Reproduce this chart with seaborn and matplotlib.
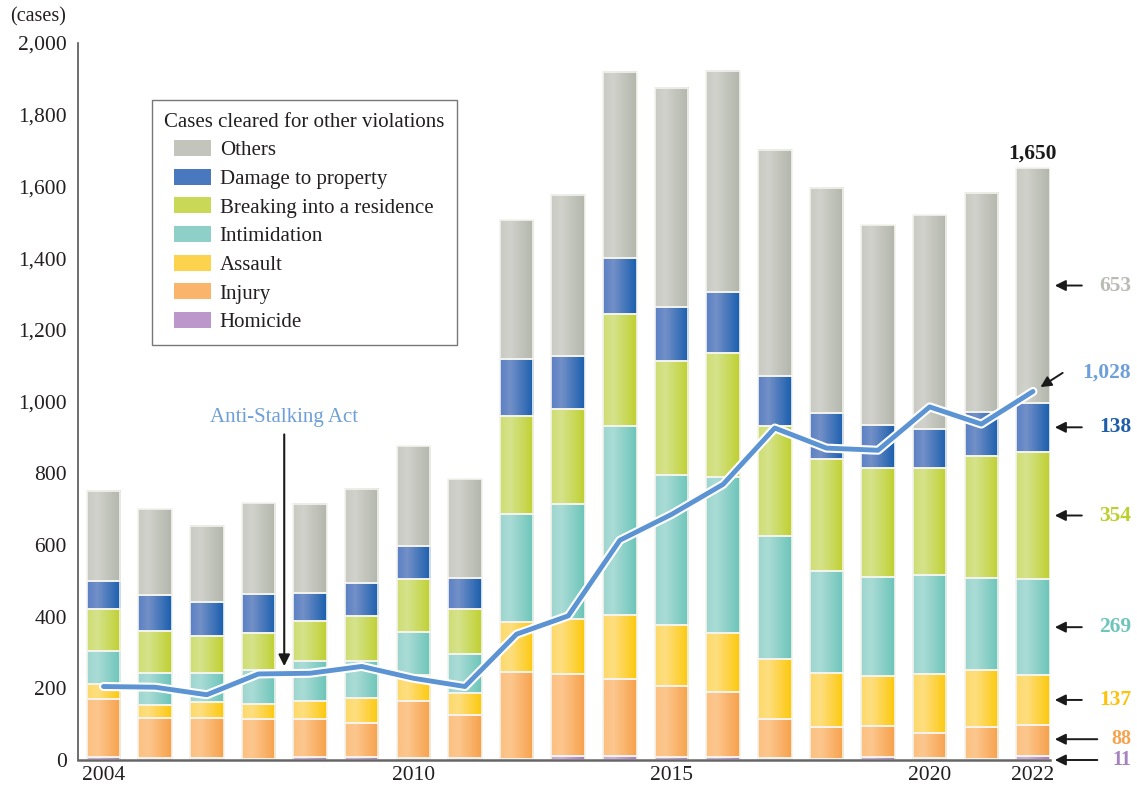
import numpy as np
import pandas as pd
import seaborn as sns
import matplotlib
matplotlib.use("Agg")
import matplotlib.pyplot as plt
from matplotlib.patches import Patch, Rectangle
from matplotlib.legend_handler import HandlerPatch
from matplotlib.colors import LinearSegmentedColormap
import matplotlib.patheffects as pe

# data
years = [2004, 2005, 2006, 2007, 2008, 2009, 2010, 2011, 2012, 2013,
         2014, 2015, 2016, 2017, 2018, 2019, 2020, 2021, 2022]
homicide = [8, 5, 5, 4, 9, 9, 5, 5, 2, 11, 11, 9, 9, 5, 2, 8, 5, 2, 11]
injury = [162, 111, 111, 111, 106, 93, 160, 121, 243, 228, 214, 198, 180, 110, 89, 88, 71, 91, 88]
assault = [41, 38, 45, 41, 50, 70, 72, 62, 140, 154, 180, 169, 166, 166, 151, 139, 164, 158, 137]
intimidation = [93, 88, 83, 95, 111, 105, 121, 107, 301, 322, 528, 420, 434, 345, 286, 275, 275, 256, 269]
breaking = [117, 118, 102, 104, 112, 125, 147, 126, 273, 264, 310, 316, 347, 307, 311, 305, 300, 340, 354]
damage = [77, 101, 94, 109, 77, 91, 93, 88, 160, 147, 156, 151, 169, 138, 129, 119, 109, 123, 138]
others = [253, 239, 212, 252, 250, 264, 277, 276, 387, 450, 521, 611, 617, 631, 628, 557, 596, 612, 653]
stalking = [205, 203, 182, 240, 242, 261, 228, 205, 351, 402, 613, 685, 769, 926, 870, 864, 985, 937, 1028]

shown_years = ["2004", "2010", "2015", "2020", "2022"]

# stacking order bottom -> top
series = [
    ("Homicide", homicide, ("#c7a8d4", "#cfb2da", "#a77ebd"), "#bb97cb", "#a582c0"),
    ("Injury", injury, ("#fcc080", "#fcc78f", "#f7a14a"), "#fab46c", "#f7a24c"),
    ("Assault", assault, ("#fdd96a", "#fedf80", "#fcc80c"), "#fdd34e", "#fcc20c"),
    ("Intimidation", intimidation, ("#9dd6cf", "#aadcd6", "#6cc4b9"), "#8ed0c8", "#6ec5bb"),
    ("Breaking into a residence", breaking, ("#cfdd72", "#d6e38c", "#bfd030"), "#cad955", "#bccf2d"),
    ("Damage to property", damage, ("#5a80c4", "#7390c8", "#1a5fae"), "#4a78bf", "#1f5da8"),
    ("Others", others, ("#c8cac3", "#d0d2cb", "#b3b6ac"), "#c3c5bd", "#b9bcb3"),
]

sns.set_theme(style="white")
plt.rcParams["font.family"] = ["Liberation Serif", "DejaVu Serif"]
ink = "#231f20"

fig = plt.figure(figsize=(11.37, 7.91), dpi=100)
ax = fig.add_axes([78 / 1137, 1 - 760 / 791, 972 / 1137, 717 / 791])

labels_x = [str(y) for y in years]
bottom = np.zeros(len(years))
for name, vals, grad, mid, _ in series:
    n_before = len(ax.patches)
    sns.barplot(x=labels_x, y=vals, bottom=bottom, color=mid, width=0.65,
                errorbar=None, edgecolor="#f4f4ee", linewidth=1.2, ax=ax)
    cmap = LinearSegmentedColormap.from_list(name, [(0, grad[0]), (0.3, grad[1]), (1, grad[2])])
    gradient = np.linspace(0, 1, 64).reshape(1, -1)
    for p in ax.patches[n_before:]:
        x0, y0 = p.get_x(), p.get_y()
        w, h = p.get_width(), p.get_height()
        ax.imshow(gradient, extent=[x0, x0 + w, y0, y0 + h], aspect="auto",
                  cmap=cmap, zorder=1.5, interpolation="bilinear")
        p.set_facecolor("none")
        p.set_zorder(2)
    bottom = bottom + np.array(vals)

# Anti-Stalking Act line
sns.lineplot(x=np.arange(len(years)), y=stalking, color="#5b93d3", linewidth=3.5,
             ax=ax, zorder=4,
             path_effects=[pe.Stroke(linewidth=6.5, foreground="white"), pe.Normal()])

ax.set_xlim(-0.494, 18.33)
ax.set_ylim(0, 2000)
ax.set_yticks(range(0, 2001, 200))
ax.set_yticklabels([f"{v:,}" for v in range(0, 2001, 200)])
ax.set_xticks([labels_x.index(y) for y in shown_years])
ax.set_xticklabels(shown_years)
ax.tick_params(axis="y", direction="in", length=7, width=1, color="#555555",
               labelsize=15.5, labelcolor=ink, pad=8)
ax.tick_params(axis="x", length=0, labelsize=15.5, labelcolor=ink, pad=4)
ax.set_xlabel("")
ax.set_ylabel("")
for s in ["top", "right"]:
    ax.spines[s].set_visible(False)
ax.spines["left"].set_color("#555555")
ax.spines["left"].set_linewidth(1.2)
ax.spines["bottom"].set_color("#666666")
ax.spines["bottom"].set_linewidth(1.8)

fig.text(0.009, 0.9785, "(cases)", ha="left", va="center", fontsize=14.5, color=ink)


# legend swatches indented a little from the title
def indented_patch(legend, orig_handle, xdescent, ydescent, width, height, fontsize):
    indent = 7.2
    return Rectangle((-xdescent + indent, -ydescent), width - indent, height)


handles = [Patch(facecolor=mid, edgecolor="none") for _, _, _, mid, _ in series][::-1]
names = [name for name, _, _, _, _ in series][::-1]
leg = ax.legend(handles, names, title="Cases cleared for other violations",
                loc="upper left", bbox_to_anchor=(0.0761, 0.9205), borderaxespad=0,
                fontsize=15, title_fontsize=15, alignment="left",
                handlelength=2.25, handleheight=0.82, labelspacing=0.40,
                handletextpad=0.4, borderpad=0.6, fancybox=False, frameon=True,
                handler_map={Patch: HandlerPatch(patch_func=indented_patch)})
leg.get_frame().set_edgecolor("#555555")
leg.get_frame().set_linewidth(1.0)
for t in leg.get_texts():
    t.set_color(ink)
leg.get_title().set_color(ink)
leg.set_zorder(6)

# Anti-Stalking Act annotation
ax.annotate("", xy=(3.5, 254), xytext=(3.5, 916),
            arrowprops=dict(arrowstyle="-|>", color="#1a1a1a", lw=1.5,
                            mutation_scale=17), zorder=5)
ax.text(3.5, 955, "Anti-Stalking Act", ha="center", va="center",
        fontsize=15, color="#6f9fd8")

# last-year labels
last = len(years) - 1
total = sum(v[last] for _, v, _, _, _ in series)
ax.text(last, 1665, f"{total:,}", ha="center", va="bottom", fontsize=15.5,
        fontweight="bold", color="#1a1a1a")

cum = 0
for name, vals, _, _, tcol in series:
    v = vals[last]
    ymid = cum + v / 2
    cum += v
    txt = str(v)
    size = 15.5
    if name == "Homicide":
        ymid, size = 0, 14.5
    elif name == "Injury":
        ymid, size = 58, 14.5
    tail = 19.0 if len(txt) >= 3 else 19.3
    ax.annotate("", xy=(18.37, ymid), xytext=(tail, ymid), annotation_clip=False,
                arrowprops=dict(arrowstyle="-|>", color="#1a1a1a", lw=1.4,
                                mutation_scale=16))
    ax.text(19.9, ymid, txt, ha="right", va="center", fontsize=size,
            fontweight="bold", color=tcol, clip_on=False)

ax.annotate("", xy=(18.1, 1036), xytext=(18.62, 1084), annotation_clip=False,
            arrowprops=dict(arrowstyle="-|>", color="#1a1a1a", lw=1.4,
                            mutation_scale=16))
ax.text(19.9, 1082, f"{stalking[last]:,}", ha="right", va="center", fontsize=15.5,
        fontweight="bold", color="#6f9fd8", clip_on=False)

fig.savefig("out.png", dpi=100)
